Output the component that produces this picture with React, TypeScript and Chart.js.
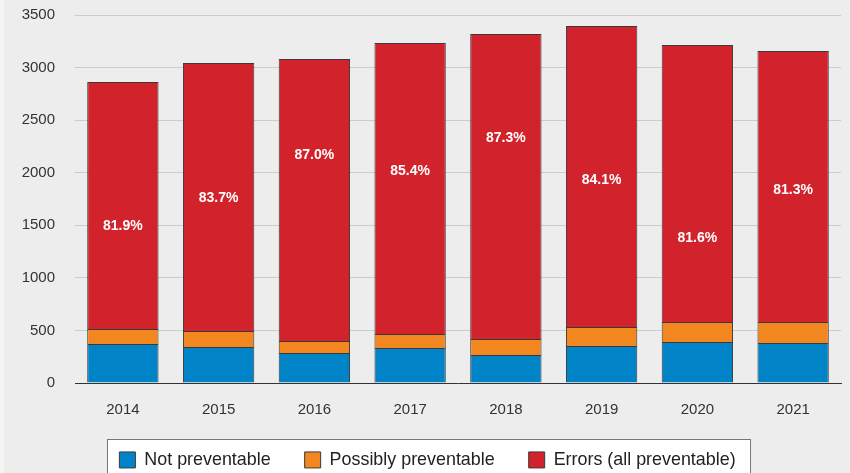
import React, { useEffect, useRef } from "react";
import { Chart, registerables } from "chart.js";

Chart.register(...registerables);

const years = ["2014", "2015", "2016", "2017", "2018", "2019", "2020", "2021"];
const notPreventable = [371, 342, 285, 333, 266, 352, 390, 380];
const possiblyPreventable = [143, 153, 115, 133, 152, 181, 190, 200];
const errorsAllPreventable = [2349, 2549, 2682, 2768, 2901, 2862, 2635, 2578];
const errorShareLabels = ["81.9%", "83.7%", "87.0%", "85.4%", "87.3%", "84.1%", "81.6%", "81.3%"];
const errorShareLabelAt = [1493, 1760, 2169, 2016, 2330, 1931, 1379, 1836];
const yMax = 3500;
const yStep = 500;

const FONT = "'Liberation Sans', Arial, Helvetica, sans-serif";

const shareLabelPlugin = {
  id: "shareLabels",
  afterDatasetsDraw(chart: any) {
    const meta = chart.getDatasetMeta(2);
    const y = chart.scales.y;
    const ctx = chart.ctx;
    ctx.save();
    ctx.fillStyle = "#ffffff";
    ctx.font = `bold 14px ${FONT}`;
    ctx.textAlign = "center";
    ctx.textBaseline = "middle";
    meta.data.forEach((bar: any, i: number) => {
      ctx.fillText(errorShareLabels[i], bar.x, y.getPixelForValue(errorShareLabelAt[i]));
    });
    ctx.restore();
  },
};

const LEGEND_HEIGHT = 56;

const legendBoxPlugin = {
  id: "legendBox",
  beforeLayout(chart: any) {
    const lg = chart.legend;
    if (lg && !lg.__patched) {
      const orig = lg.fit.bind(lg);
      lg.fit = function () {
        orig();
        this.height = LEGEND_HEIGHT;
      };
      lg.__patched = true;
    }
  },
  beforeDraw(chart: any) {
    const lg = chart.legend;
    if (!lg || !lg.legendHitBoxes || !lg.legendHitBoxes.length) return;
    const hb = lg.legendHitBoxes;
    const first = hb[0];
    const last = hb[hb.length - 1];
    const left = Math.round(first.left - 12);
    const right = Math.round(last.left + last.width + 14);
    const top = Math.round(first.top - 12);
    const ctx = chart.ctx;
    ctx.save();
    ctx.fillStyle = "#ffffff";
    ctx.strokeStyle = "#777777";
    ctx.lineWidth = 1;
    ctx.fillRect(left, top, right - left, chart.height - top + 10);
    ctx.strokeRect(left + 0.5, top + 0.5, right - left, chart.height - top + 10);
    ctx.restore();
  },
};

export default function App() {
  const ref = useRef<HTMLCanvasElement | null>(null);

  useEffect(() => {
    document.body.style.margin = "0";
    const canvas = ref.current;
    if (!canvas) return;
    const border = "#3a3a3a";
    const chart = new Chart(canvas, {
      type: "bar",
      data: {
        labels: years,
        datasets: [
          {
            label: "Not preventable",
            data: notPreventable,
            backgroundColor: "#0084c7",
            borderColor: border,
            borderWidth: 1,
          },
          {
            label: "Possibly preventable",
            data: possiblyPreventable,
            backgroundColor: "#f2861f",
            borderColor: border,
            borderWidth: 1,
          },
          {
            label: "Errors (all preventable)",
            data: errorsAllPreventable,
            backgroundColor: "#d2222b",
            borderColor: border,
            borderWidth: 1,
          },
        ],
      },
      options: {
        responsive: false,
        animation: false,
        maintainAspectRatio: false,
        datasets: { bar: { barPercentage: 0.745, categoryPercentage: 1 } },
        layout: { padding: { left: 14, right: 9, top: 15, bottom: 0 } },
        plugins: {
          legend: {
            position: "bottom",
            labels: {
              font: { family: FONT, size: 17.9 },
              color: "#222222",
              boxWidth: 16,
              boxHeight: 16,
              padding: 34,
            },
          },
          tooltip: { enabled: false },
        },
        scales: {
          x: {
            stacked: true,
            afterFit: (s: any) => {
              s.height = 34;
            },
            grid: { display: false, drawTicks: false },
            border: { display: true, color: "#333333", width: 1 },
            ticks: { font: { family: FONT, size: 15 }, color: "#333333", padding: 18 },
          },
          y: {
            stacked: true,
            min: 0,
            max: yMax,
            afterFit: (s: any) => {
              s.width = 61;
              s.paddingTop = 0;
              s.paddingBottom = 0;
            },
            grid: { color: "#cccccc", drawTicks: false },
            border: { display: false },
            ticks: {
              stepSize: yStep,
              font: { family: FONT, size: 15 },
              color: "#333333",
              padding: 20,
              callback: (v: any) => String(v),
            },
          },
        },
      },
      plugins: [legendBoxPlugin, shareLabelPlugin],
    });
    return () => chart.destroy();
  }, []);

  return (
    <div
      style={{
        position: "fixed",
        left: 0,
        top: 0,
        width: 850,
        height: 473,
        background: "#ededed",
        overflow: "hidden",
      }}
    >
      <div
        style={{ position: "absolute", left: 0, top: 0, width: 4, height: 473, background: "#f9f4f4" }}
      />
      <canvas
        ref={ref}
        width={850}
        height={473}
        style={{ display: "block", position: "absolute", left: 0, top: 0 }}
      />
    </div>
  );
}
